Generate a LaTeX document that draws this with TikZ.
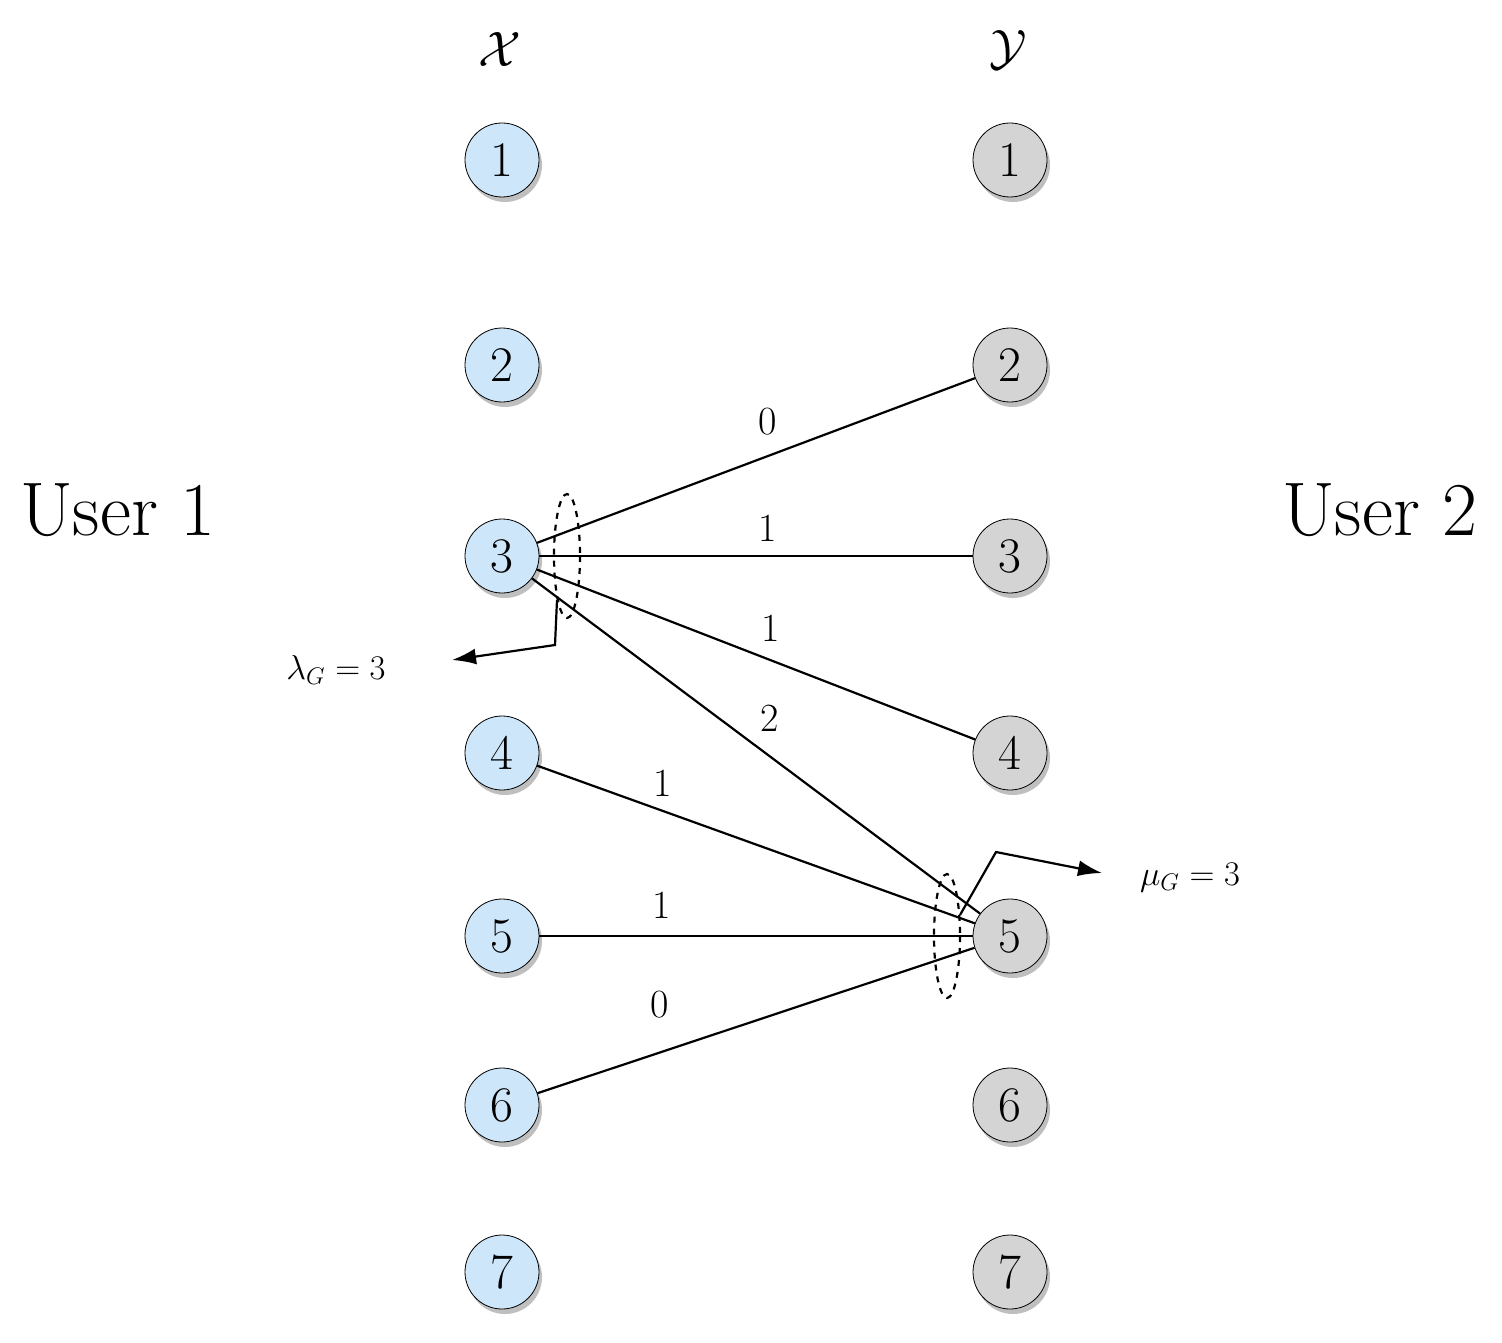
\documentclass[tikz,border=0pt]{standalone}
\usetikzlibrary{shadows,arrows.meta}
\definecolor{nblue}{RGB}{206,230,250}
\definecolor{ngray}{RGB}{212,212,212}
\begin{document}
\begin{tikzpicture}[x=0.5pt,y=-0.5pt,
  vert/.style={circle,draw,thin,minimum size=37pt,inner sep=0pt,font=\fontsize{24}{28}\selectfont,
    drop shadow={shadow xshift=1.5pt,shadow yshift=-2.5pt,opacity=0.5}},
  xv/.style={vert,fill=nblue}, yv/.style={vert,fill=ngray},
  edge/.style={line width=1.1pt},
  el/.style={font=\fontsize{20}{24}\selectfont},
  big/.style={font=\fontsize{38}{44}\selectfont},
  ell/.style={dashed,line width=1.1pt},
  arr/.style={line width=1.1pt,-{Latex[length=12pt,width=8pt]}}]
\useasboundingbox (0,0) rectangle (1502,1342);
\node[big] at (500,50) {$\mathcal{X}$};
\node[big] at (1008,50) {$\mathcal{Y}$};
\node[big] at (118,510) {User 1};
\node[big] at (1380,510) {User 2};
\foreach \i/\y in {1/160,2/365,3/556,4/753,5/936,6/1105,7/1272}{
  \node[xv] (x\i) at (502,\y) {$\i$};
  \node[yv] (y\i) at (1010,\y) {$\i$};
}
\draw[edge] (x3) -- (y2);
\draw[edge] (x3) -- (y3);
\draw[edge] (x3) -- (y4);
\draw[edge] (x3) -- (y5);
\draw[edge] (x4) -- (y5);
\draw[edge] (x5) -- (y5);
\draw[edge] (x6) -- (y5);
\node[el] at (768,422) {0};
\node[el] at (768,528) {1};
\node[el] at (771,628) {1};
\node[el] at (770,718) {2};
\node[el] at (663,783) {1};
\node[el] at (662,905) {1};
\node[el] at (660,1005) {0};
\draw[ell] (567,556) ellipse [x radius=13,y radius=62];
\draw[ell] (947,936) ellipse [x radius=13,y radius=62];
\coordinate (la) at (557,600);
\coordinate (lb) at (555,645);
\coordinate (lc) at (452,660);
\draw[arr] (la) -- (lb) -- (lc);
\node[el,font=\fontsize{17}{20}\selectfont] at (336,670) {$\lambda_G=3$};
\coordinate (ma) at (960,915);
\coordinate (mb) at (996,852);
\coordinate (mc) at (1102,873);
\draw[arr] (ma) -- (mb) -- (mc);
\node[el,font=\fontsize{17}{20}\selectfont] at (1190,878) {$\mu_G=3$};
\end{tikzpicture}
\end{document}
